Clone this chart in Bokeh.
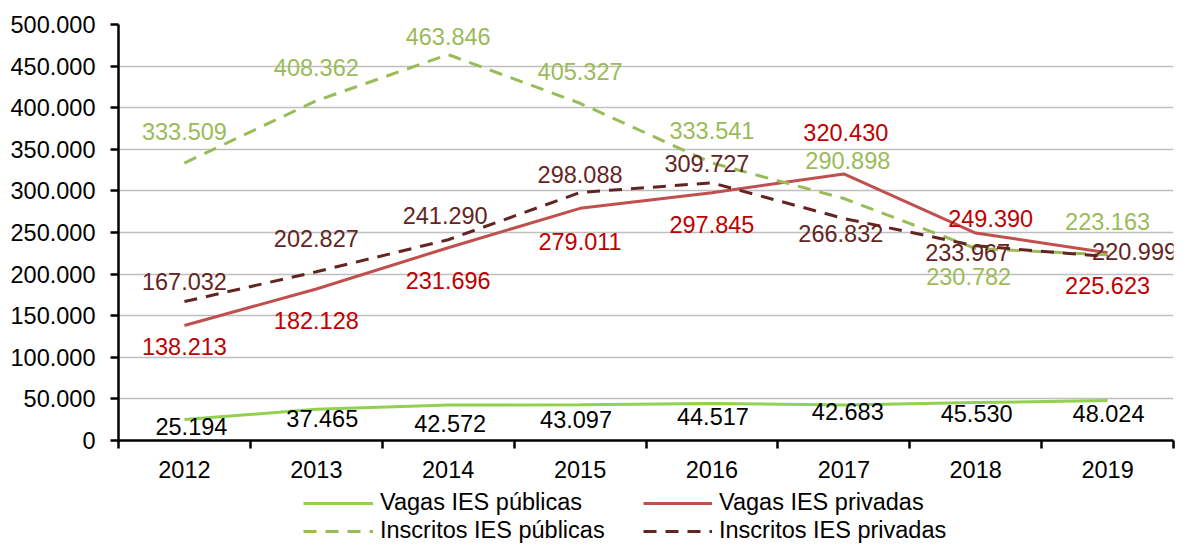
from bokeh.plotting import figure
from bokeh.layouts import column
from bokeh.models import (ColumnDataSource, LabelSet, Legend, LegendItem,
                          FixedTicker)
from bokeh.core.properties import value
from bokeh.embed import file_html
from bokeh.resources import INLINE

# ---- data ----
years = ["2012", "2013", "2014", "2015", "2016", "2017", "2018", "2019"]
vagas_publicas = [25194, 37465, 42572, 43097, 44517, 42683, 45530, 48024]
vagas_privadas = [138213, 182128, 231696, 279011, 297845, 320430, 249390, 225623]
inscritos_publicas = [333509, 408362, 463846, 405327, 333541, 290898, 230782, 223163]
inscritos_privadas = [167032, 202827, 241290, 298088, 309727, 266832, 233967, 220999]
y_ticks = [0, 50000, 100000, 150000, 200000, 250000, 300000, 350000, 400000, 450000, 500000]

# ---- label placement (screen px, y positive = up) ----
vp_dx = [7, 6, 2, -4, 1, 4, 1, 1]
vp_dy = [-7, -9, -18, -15, -13, -7, -11, -13]
vpr_dx = [0, 0, 0, 0, 0, 2, 15, 0]
vpr_dy = [-21, -32, -33, -33, -32, 41, 15, -33]
ip_dx = [0, 0, 0, 0, 0, 4, -7, 0]
ip_dy = [32, 33, 18, 32, 32, 38, -28, 33]
ipr_dx = [0, 0, -3, 0, -5, -3, -8, 27]
ipr_dy = [20, 33, 24, 18, 19, -15, -7, 5]

FONT = "Liberation Sans"
FS = "23.5px"
W = 1181


def fmt(v):
    return f"{v:,}".replace(",", ".")


xs = [i + 0.5 for i in range(len(years))]

p = figure(width=W, height=485, x_range=(0, 8), y_range=(0, 500000),
           output_backend="svg", toolbar_location=None,
           min_border_left=118, min_border_right=8, min_border_top=24,
           min_border_bottom=45)
p.outline_line_color = None

# axes
p.xaxis.ticker = FixedTicker(ticks=xs, minor_ticks=list(range(0, 9)))
p.xaxis.major_label_overrides = {x: y for x, y in zip(xs, years)}
p.xaxis.major_tick_line_color = None
p.xaxis.major_tick_out = 0
p.xaxis.major_tick_in = 0
p.xaxis.minor_tick_line_color = "black"
p.xaxis.minor_tick_line_width = 2.5
p.xaxis.minor_tick_out = 8
p.xaxis.minor_tick_in = 0
p.xaxis.axis_line_width = 2.5
p.xaxis.axis_line_color = "black"
p.xaxis.major_label_standoff = 12

p.yaxis.ticker = FixedTicker(ticks=y_ticks)
p.yaxis.major_label_overrides = {t: fmt(t) for t in y_ticks}
p.yaxis.major_tick_line_color = "black"
p.yaxis.major_tick_line_width = 2.5
p.yaxis.major_tick_out = 8
p.yaxis.major_tick_in = 0
p.yaxis.minor_tick_line_color = None
p.yaxis.axis_line_width = 2.5
p.yaxis.axis_line_color = "black"
p.yaxis.major_label_standoff = 15

for ax in (p.xaxis, p.yaxis):
    ax.major_label_text_font = FONT
    ax.major_label_text_font_size = FS
    ax.major_label_text_color = "black"

p.xgrid.grid_line_color = None
p.ygrid.ticker = FixedTicker(ticks=y_ticks[1:])
p.ygrid.grid_line_color = "#BFBFBF"
p.ygrid.grid_line_width = 1.3

# lines
DASH = "13 9"
C_VP, C_VPR, C_IP, C_IPR = "#92D050", "#C0504D", "#9BBB59", "#632523"
p.line(xs, vagas_publicas, line_color=C_VP, line_width=3)
p.line(xs, vagas_privadas, line_color=C_VPR, line_width=3)
p.line(xs, inscritos_publicas, line_color=C_IP, line_width=3, line_dash=DASH)
p.line(xs, inscritos_privadas, line_color=C_IPR, line_width=3, line_dash=DASH)

# data labels
for vals, dx, dy, color in [
    (vagas_publicas, vp_dx, vp_dy, "black"),
    (vagas_privadas, vpr_dx, vpr_dy, "#C00000"),
    (inscritos_publicas, ip_dx, ip_dy, C_IP),
    (inscritos_privadas, ipr_dx, ipr_dy, C_IPR),
]:
    src = ColumnDataSource(dict(x=xs, y=vals, t=[fmt(v) for v in vals],
                                dx=dx, dy=dy))
    ls = LabelSet(x="x", y="y", text="t", source=src, x_offset="dx",
                  y_offset="dy", text_align="center", text_baseline="middle",
                  text_font=value(FONT), text_font_size=value(FS),
                  text_color=value(color))
    p.add_layout(ls)

# legend strip below the chart (frame aligned with the chart frame)
p2 = figure(width=W, height=61, x_range=(0, 1), y_range=(0, 1),
            x_axis_type=None, y_axis_type=None, output_backend="svg",
            toolbar_location=None, min_border=0)
p2.outline_line_color = None
p2.grid.visible = False
nan = [float("nan")]
l_vp = p2.line(nan, nan, line_color=C_VP, line_width=3)
l_vpr = p2.line(nan, nan, line_color=C_VPR, line_width=3)
l_ip = p2.line(nan, nan, line_color=C_IP, line_width=3, line_dash=DASH)
l_ipr = p2.line(nan, nan, line_color=C_IPR, line_width=3, line_dash=DASH)


def make_legend(items, x, gw):
    return Legend(items=items, location=(x, 2), orientation="vertical",
                  glyph_width=gw, glyph_height=20, label_height=20,
                  label_standoff=7, spacing=1, padding=0, margin=0,
                  border_line_color=None, background_fill_alpha=0,
                  label_text_font=FONT, label_text_font_size=FS,
                  label_text_color="black")


p2.add_layout(make_legend([LegendItem(label="Vagas IES públicas", renderers=[l_vp]),
                           LegendItem(label="Inscritos IES públicas", renderers=[l_ip])],
                          185, 70), "center")
p2.add_layout(make_legend([LegendItem(label="Vagas IES privadas", renderers=[l_vpr]),
                           LegendItem(label="Inscritos IES privadas", renderers=[l_ipr])],
                          525, 69), "center")

layout = column(p, p2, spacing=0)
open("out.html", "w").write(file_html(layout, INLINE))
